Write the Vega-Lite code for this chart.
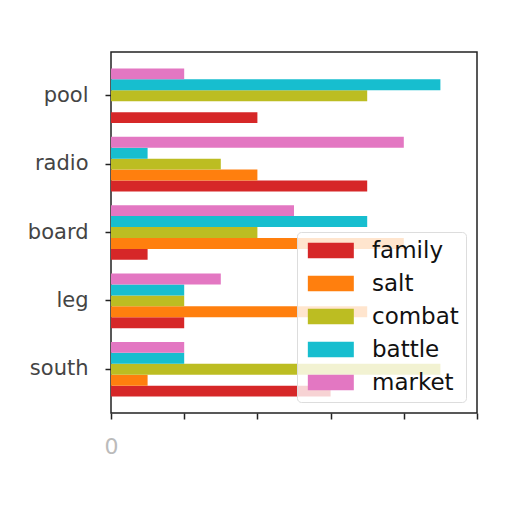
{
  "$schema": "https://vega.github.io/schema/vega-lite/v6.json",
  "width": 366, "height": 361,
  "autosize": {"type": "none"},
  "padding": {"left": 111, "top": 52, "right": 35, "bottom": 99},
  "background": "white",
  "config": {
    "view": {"stroke": "#222", "strokeWidth": 1.5},
    "font": "DejaVu Sans"
  },
  "data": {"values": [
    {"word": "pool", "series": "family", "value": 4},
    {"word": "pool", "series": "salt", "value": 0},
    {"word": "pool", "series": "combat", "value": 7},
    {"word": "pool", "series": "battle", "value": 9},
    {"word": "pool", "series": "market", "value": 2},
    {"word": "radio", "series": "family", "value": 7},
    {"word": "radio", "series": "salt", "value": 4},
    {"word": "radio", "series": "combat", "value": 3},
    {"word": "radio", "series": "battle", "value": 1},
    {"word": "radio", "series": "market", "value": 8},
    {"word": "board", "series": "family", "value": 1},
    {"word": "board", "series": "salt", "value": 8},
    {"word": "board", "series": "combat", "value": 4},
    {"word": "board", "series": "battle", "value": 7},
    {"word": "board", "series": "market", "value": 5},
    {"word": "leg", "series": "family", "value": 2},
    {"word": "leg", "series": "salt", "value": 7},
    {"word": "leg", "series": "combat", "value": 2},
    {"word": "leg", "series": "battle", "value": 2},
    {"word": "leg", "series": "market", "value": 3},
    {"word": "south", "series": "family", "value": 6},
    {"word": "south", "series": "salt", "value": 1},
    {"word": "south", "series": "combat", "value": 9},
    {"word": "south", "series": "battle", "value": 2},
    {"word": "south", "series": "market", "value": 2}
  ]},
  "mark": {"type": "bar", "cornerRadius": 0},
  "encoding": {
    "y": {
      "field": "word", "type": "nominal", "title": null,
      "sort": ["pool", "radio", "board", "leg", "south"],
      "scale": {"paddingInner": 0.2, "paddingOuter": 0.24},
      "axis": {
        "domain": false, "tickColor": "#222", "tickSize": 6, "tickWidth": 1.5,
        "labelFontSize": 21, "labelColor": "#444", "labelPadding": 17
      }
    },
    "yOffset": {
      "field": "series", "type": "nominal",
      "sort": ["market", "battle", "combat", "salt", "family"],
      "scale": {"paddingInner": 0, "paddingOuter": 0}
    },
    "x": {
      "field": "value", "type": "quantitative", "title": null,
      "scale": {"domain": [0, 10], "nice": false},
      "axis": {
        "values": [0, 2, 4, 6, 8, 10], "grid": false, "domain": false,
        "tickColor": "#222", "tickSize": 6, "tickWidth": 1.5,
        "labelExpr": "datum.value == 0 ? '0' : ''", "labelFlush": false,
        "labelFontSize": 22, "labelColor": "#bbb", "labelPadding": 17
      }
    },
    "color": {
      "field": "series", "type": "nominal",
      "scale": {
        "domain": ["family", "salt", "combat", "battle", "market"],
        "range": ["#d62728", "#ff7f0e", "#bcbd22", "#17becf", "#e377c2"]
      },
      "legend": {
        "title": null, "orient": "none", "legendX": 186, "legendY": 180,
        "fillColor": "rgba(255,255,255,0.8)", "strokeColor": "#ddd", "cornerRadius": 4,
        "padding": 7,
        "symbolType": "M-1,-1H5V1H-1Z", "symbolSize": 235,
        "symbolStrokeWidth": 0, "symbolOpacity": 1,
        "labelFontSize": 23, "labelColor": "#111", "labelOffset": 45,
        "rowPadding": 9
      }
    }
  }
}
